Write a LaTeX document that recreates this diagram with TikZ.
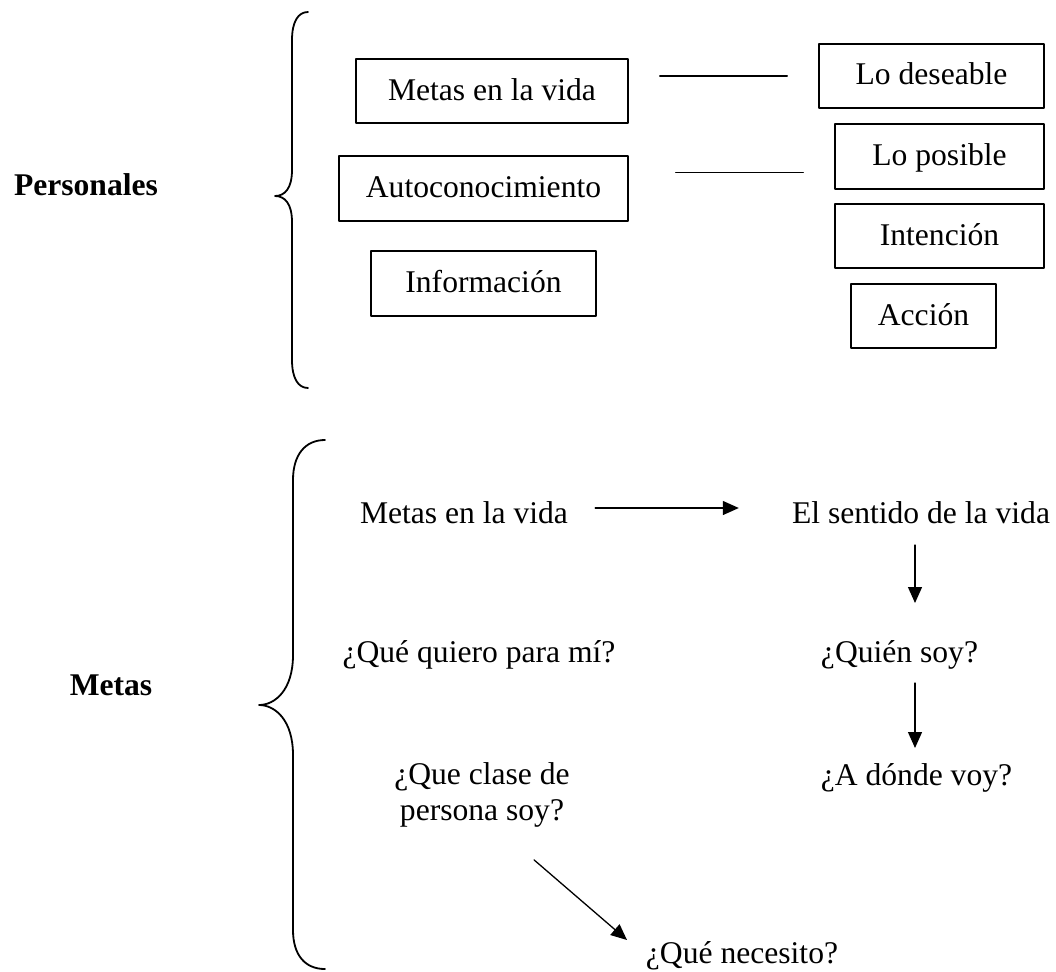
\documentclass[tikz,border=0pt]{standalone}
\usepackage{fontspec}
\setmainfont{Liberation Serif}
\usetikzlibrary{arrows.meta,calc}
\begin{document}
\begin{tikzpicture}[x=1pt,y=-1pt,line join=round,line cap=round,font=\fontsize{31.6}{36.3}\selectfont,
	caja/.style={draw,line width=1.8pt,minimum height=64.5pt,inner sep=0pt,text height=23pt,text depth=5pt},
	txt/.style={inner sep=0pt,anchor=base},
	flecha/.style={-{Triangle[length=16pt,width=14pt]},line width=1.3pt}]
	\useasboundingbox (0,0) rectangle (1056,971);
	% llaves
	\draw[line width=1.8pt] (308,12) .. controls (298,12) and (292,22) .. (292,40) -- (292,170) .. controls (292,188) and (285,196) .. (275,196) .. controls (285,196) and (292,204) .. (292,222) -- (292,360) .. controls (292,378) and (298,388) .. (308,388);
	\draw[line width=1.8pt] (325,440) .. controls (305,440) and (293,455) .. (293,480) -- (293,655) .. controls (293,690) and (275,705) .. (259,705) .. controls (275,705) and (293,720) .. (293,755) -- (293,930) .. controls (293,955) and (305,969) .. (325,969);
	\node[txt] (pers) at (86,195) {\bfseries Personales};
	\node[txt] (met) at (111,695) {\bfseries Metas};
	% cajas
	\node[caja,minimum width=272pt] (b1) at (492,91) {Metas en la vida};
	\node[caja,minimum width=289pt] (b2) at (483.5,188.5) {Autoconocimiento};
	\node[caja,minimum width=225pt] (b3) at (483.5,283.5) {Información};
	\node[caja,minimum width=225pt] (r1) at (931.5,76) {Lo deseable};
	\node[caja,minimum width=209pt] (r2) at (939.5,156.5) {Lo posible};
	\node[caja,minimum width=209pt] (r3) at (939.5,236) {Intención};
	\node[caja,minimum width=145pt] (r4) at (923.5,316) {Acción};
	\coordinate (m2) at ($(b2.east)!.5!(r2.west)$);
	\draw[line width=1.7pt] ([xshift=31pt]b1.east |- r1.west) -- ([xshift=-31pt]r1.west);
	\draw[line width=1.7pt] ([xshift=47pt]b2.east |- m2) -- ([xshift=-31pt]r2.west |- m2);
	% metas
	\node[txt] (m1) at (464,523) {Metas en la vida};
	\node[txt] (sv) at (921,523) {El sentido de la vida};
	\node[txt] (qq) at (479,662) {¿Qué quiero para mí?};
	\node[txt] (qs) at (899.5,662) {¿Quién soy?};
	\node[inner sep=0pt,anchor=north,align=center] (qc) at (482,762.4) {¿Que clase de\\persona soy?};
	\node[txt] (av) at (916.5,785) {¿A dónde voy?};
	\node[txt] (qn) at (742,963) {¿Qué necesito?};
	\draw[flecha] ([xshift=27pt,yshift=15pt]m1.base east) -- ([xshift=-53pt,yshift=15pt]sv.base west);
	\draw[flecha] ([xshift=-6pt,yshift=-22pt]sv.base) -- ([xshift=15.5pt,yshift=59pt]qs.base);
	\draw[flecha] ([xshift=15.5pt,yshift=-21pt]qs.base) -- ([xshift=-1.5pt,yshift=37pt]av.base);
	\draw[flecha] ([xshift=52pt,yshift=-32pt]qc.south) -- ([xshift=-115pt,yshift=23pt]qn.base);
\end{tikzpicture}
\end{document}
